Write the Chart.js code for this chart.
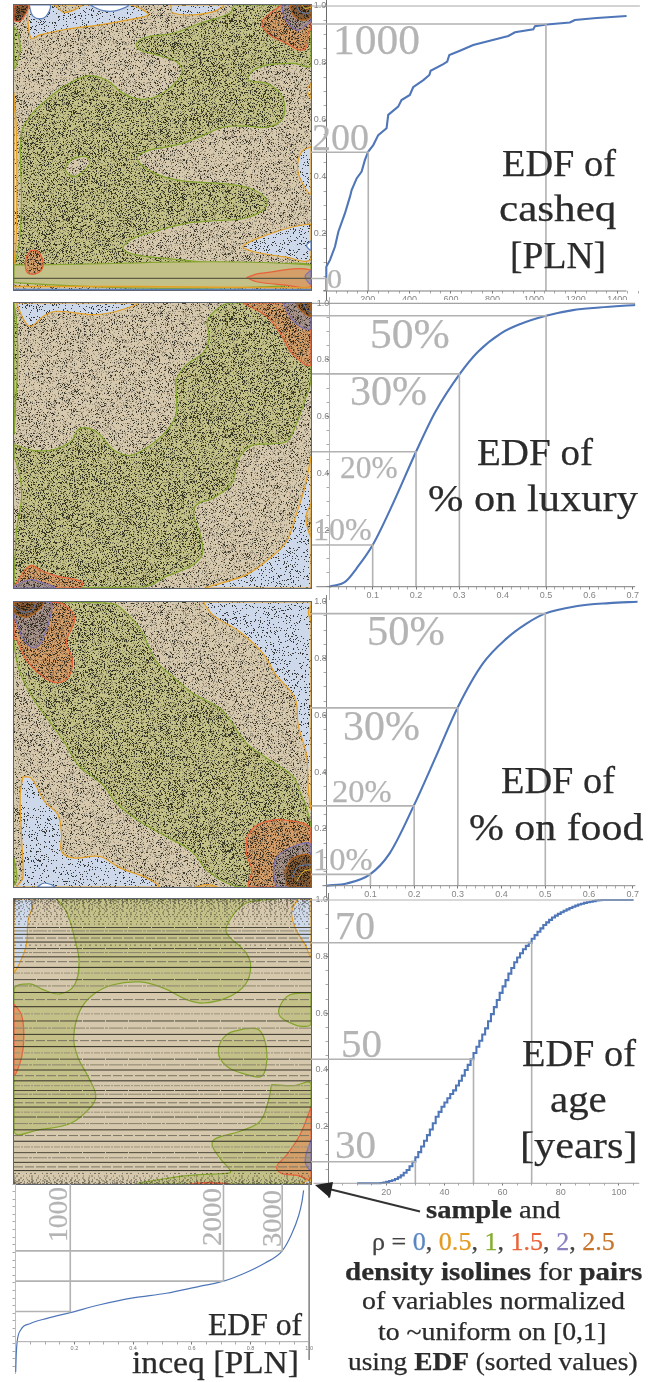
<!DOCTYPE html>
<html><head><meta charset="utf-8">
<script src="https://cdn.jsdelivr.net/npm/chart.js@4/dist/chart.umd.min.js"></script>
<style>
html,body{margin:0;padding:0;background:#fff}
#page{position:relative;width:660px;height:1382px;overflow:hidden;background:#fff;filter:blur(.35px)}
canvas{position:absolute;display:block}
.t{position:absolute;left:0;top:0;white-space:pre;line-height:1;font-family:"Liberation Serif",serif;transform-origin:0 0;-webkit-text-stroke:.25px currentColor}
svg{position:absolute;left:0;top:0}
</style></head><body><div id="page"></div>
<script>
/* ---------- EDF curves ---------- */
const casheqX=[0,0,18,42,58,90,114,122,146,170,186,202,226,250,290,298,346,362,402,418,467,496,502,563,582,592,643,707,787,876,908,996,1004,1060,1172,1196,1301,1445];
const casheqY=[0,.085,.109,.156,.208,.273,.331,.354,.395,.419,.46,.489,.512,.547,.571,.618,.647,.67,.688,.715,.74,.758,.773,.796,.805,.828,.843,.863,.878,.895,.908,.918,.929,.935,.942,.951,.958,.965];
const luxuryX=[0,.037,.063,.1,.147,.2,.245,.301,.343,.396,.441,.5,.562,.623,.706];
const luxuryY=[0,.018,.065,.147,.294,.476,.618,.751,.829,.894,.927,.956,.976,.985,.994];
const foodX=[0,.046,.099,.144,.199,.251,.299,.357,.411,.456,.499,.57,.646,.711];
const foodY=[0,.008,.04,.114,.281,.459,.626,.782,.87,.922,.958,.984,.995,1];
const ageX=[10,18,19,20,21,22,23,24,25,26,27,28,29,30,31,32,33,34,35,36,37,38,39,40,41,42,43,44,45,46,47,48,49,50,51,52,53,54,55,56,57,58,59,60,61,62,63,64,65,66,67,68,69,70,71,72,73,74,75,76,77,78,79,80,81,82,83,84,85,86,87,88,89,90,91,92,93,94,95,105];
const ageY=[0,0,.001,.003,.005,.008,.011,.015,.021,.028,.037,.047,.06,.076,.092,.11,.13,.15,.17,.19,.212,.235,.252,.27,.285,.3,.315,.328,.345,.362,.38,.4,.418,.438,.46,.482,.503,.525,.547,.572,.597,.622,.647,.672,.695,.717,.74,.76,.78,.797,.812,.826,.838,.849,.863,.876,.888,.9,.912,.921,.93,.938,.945,.951,.957,.962,.967,.972,.976,.98,.984,.987,.99,.992,.994,.996,.998,.999,1,1];
const inceqP=[0,.002,.005,.017,.05,.107,.186,.287,.4,.513,.626,.708,.795,.85,.908,.94,.964,.975,.981];
const inceqV=[-1000,-400,0,385,600,770,960,1220,1450,1600,1830,2000,2330,2600,3000,3550,4160,4600,5000];

/* ---------- quantile guide lines [x, EDF] ---------- */
const casheqGuides=[[0,.044],[202,.487],[1057,.937]];
const luxuryGuides=[[.1,.147],[.2,.476],[.3,.751],[.5,.956]];
const foodGuides=[[.1,.04],[.2,.281],[.3,.626],[.5,.958]];
const ageGuides=[[30,.076],[50,.438],[70,.849]];
const inceqGuides=[[.186,1000],[.708,2000],[.908,3000]];

/* ---------- isoline regions, [u,v] in normalized pair coordinates ---------- */
const c1Green=[[.004,.094],[.019,.175],[.025,.316],[.025,.55],[.058,.614],[.103,.661],[.176,.719],[.249,.751],[.311,.737],[.367,.69],[.429,.669],[.491,.684],[.547,.731],[.566,.766],[.547,.801],[.48,.825],[.424,.842],[.412,.865],[.446,.887],[.536,.901],[.626,.936],[.727,.971],[.744,1],[.851,1],[1,1],[1,.789],[.94,.795],[.851,.789],[.8,.766],[.789,.737],[.851,.725],[.896,.69],[.912,.643],[.901,.596],[.851,.571],[.783,.575],[.704,.571],[.626,.538],[.547,.509],[.457,.491],[.415,.468],[.435,.433],[.502,.398],[.592,.38],[.693,.374],[.794,.357],[.851,.316],[.839,.281],[.772,.251],[.671,.243],[.581,.234],[.491,.211],[.401,.181],[.367,.146],[.412,.123],[.513,.111],[.682,.094],[.851,.088],[1,.088],[1,.03],[0,.03],[0,.09]];
const c1Hole=[[.171,.427],[.193,.456],[.243,.468],[.255,.444],[.232,.415],[.204,.398],[.182,.407],[.171,.427]];
const c1Band=[[0,.088],[1,.088],[1,.018],[0,.026],[0,.088]];
const c1LeftGreen=[[0,.924],[.013,.901],[.021,.842],[0,.778],[0,.924]];
const c1BlueTL=[[.047,1],[.047,.947],[.058,.883],[.087,.895],[.176,.915],[.289,.93],[.379,.947],[.452,.965],[.435,.982],[.39,1],[.047,1]];
const c1WhiteA=[[.051,1],[.064,.961],[.098,.953],[.118,.977],[.12,1],[.051,1]];
const c1WhiteB=[[.255,1],[.3,.98],[.345,.98],[.384,1],[.255,1]];
const c1TanTop=[[.137,1],[.171,.974],[.227,1],[.137,1]];
const c1BlueTop=[[.53,.988],[.533,.973],[.592,.965],[.671,.977],[.704,1],[.53,1],[.53,.988]];
const c1RedTR=[[.901,1],[.856,.965],[.834,.936],[.862,.895],[.918,.865],[.963,.842],[.985,.854],[.991,.901],[1,.918],[1,1],[.901,1]];
const c1PurpleTR=[[.901,1],[.912,.953],[.952,.912],[.985,.93],[1,.947],[1,1],[.901,1]];
const c1DarkTR=[[.929,1],[.94,.965],[.969,.947],[1,.959],[1,1],[.929,1]];
const c1LineBlue=[[.952,1],[.963,.977],[.991,.971],[1,.982]];
const c1LineYellow=[[.969,1],[.98,.988],[1,.992]];
const c1DarkTL=[[0,1],[0,.947],[.025,.947],[.047,1],[0,1]];
const c1BlueR=[[1,.503],[.969,.485],[.955,.439],[.963,.392],[1,.339],[1,.503]];
const c1BlueR2=[[1,.725],[.988,.702],[1,.673],[1,.725]];
const c1BlueBR=[[1,.232],[.94,.222],[.851,.193],[.772,.154],[.806,.135],[.907,.117],[1,.108],[1,.232]];
const c1WhiteBR=[[1,.173],[.985,.156],[1,.14],[1,.173]];
const c1BlueL=[[0,.69],[.008,.55],[.008,.199],[0,.094],[0,.69]];
const c1RedBL=[[.058,.14],[.081,.135],[.098,.094],[.087,.064],[.053,.056],[.039,.076],[.042,.117],[.058,.14]];
const c1RedB=[[.783,.044],[.828,.058],[1,.07],[1,.012],[.907,.018],[.817,.029],[.783,.044]];
const c1PurpleB=[[1,.07],[.98,.047],[1,.021],[1,.07]];
const c1ZeroLine=[[0,.041],[1,.041]];
const c1BottomOrange=[[0,.012],[.4,.012],[1,.007]];
const c1BottomBlue=[[0,.002],[1,.002]];

const c2Green=[[0,.503],[.064,.483],[.131,.485],[.193,.515],[.216,.556],[.249,.561],[.289,.538],[.334,.485],[.39,.465],[.446,.491],[.502,.538],[.544,.602],[.547,.673],[.547,.731],[.581,.784],[.637,.825],[.657,.877],[.651,.936],[.682,.977],[.727,1],[1,1],[1,.731],[.98,.661],[.952,.579],[.918,.515],[.862,.506],[.794,.497],[.755,.45],[.733,.368],[.671,.316],[.615,.292],[.606,.251],[.626,.193],[.635,.123],[.603,.082],[.513,.041],[.435,.004],[0,0],[.002,.076],[.01,.216],[.025,.31],[.022,.38],[.008,.439],[0,.462],[0,.503]];
const c2LeftGreen=[[0,1],[.008,.942],[.013,.8],[.006,.661],[0,.544],[0,1]];
const c2BlueTL=[[.008,1],[.036,.936],[.058,.918],[.098,.953],[.143,.971],[.267,.959],[.345,.971],[.412,1],[.008,1]];
const c2BlueBR=[[1,.462],[.98,.357],[.952,.263],[.918,.164],[.862,.105],[.783,.047],[.682,.012],[.648,0],[1,0],[1,.462]];
const c2TanBR=[[1,.298],[.983,.246],[1,.181],[1,.298]];
const c2RedTR=[[.772,1],[.851,.953],[.896,.895],[.94,.819],[1,.784],[1,1],[.772,1]];
const c2PurpleTR=[[.907,1],[.929,.953],[.963,.918],[1,.912],[1,1],[.907,1]];
const c2DarkTR=[[.952,1],[.963,.977],[1,.953],[1,1],[.952,1]];
const c2LineTR=[[.975,1],[.985,.977],[1,.967]];
const c2RedBL=[[0,.004],[.053,.078],[.098,.058],[.148,.041],[.227,.023],[.222,0],[0,0],[0,.004]];
const c2PurpleBL=[[0,.006],[.053,.029],[.098,.018],[.137,0],[0,0],[0,.006]];

const c3Green=[[0,.848],[.019,.755],[.064,.662],[.12,.58],[.176,.498],[.216,.428],[.3,.358],[.345,.294],[.424,.23],[.513,.177],[.598,.125],[.648,.061],[.704,.02],[.761,0],[1,0],[1,.207],[.985,.277],[.963,.335],[.94,.387],[.851,.452],[.783,.504],[.727,.586],[.693,.627],[.603,.679],[.536,.737],[.48,.79],[.452,.848],[.424,.907],[.39,.948],[.334,.994],[.176,1],[0,1],[0,.848]];
const c3BlueTR=[[.637,1],[.671,.953],[.761,.895],[.839,.819],[.879,.749],[.946,.662],[.957,.568],[.985,.463],[.991,.347],[1,.277],[1,1],[.637,1]];
const c3TanTR=[[1,.988],[.991,.965],[1,.936],[1,.988]];
const c3BlueBL=[[.03,.387],[.058,.382],[.103,.3],[.148,.253],[.16,.183],[.16,.125],[.199,.102],[.289,.107],[.356,.067],[.446,.032],[.485,0],[.013,0],[.03,.032],[.025,.183],[.021,.323],[.03,.387]];
const c3WhiteB=[[.078,0],[.103,.014],[.137,0],[.078,0]];
const c3TanB=[[.609,0],[.648,.008],[.683,0],[.609,0]];
const c3LeftGreen=[[0,.102],[.01,.032],[0,.008],[0,.102]];
const c3RedTL=[[.008,.872],[.042,.796],[.098,.738],[.148,.717],[.187,.744],[.196,.802],[.176,.86],[.204,.942],[.165,.994],[.12,1],[0,1],[0,.872],[.008,.872]];
const c3PurpleTL=[[.013,.918],[.03,.872],[.064,.839],[.092,.86],[.126,.965],[.12,1],[0,1],[0,.953],[.013,.918]];
const c3DarkTL=[[0,1],[.098,1],[.087,.977],[.047,.948],[.019,.953],[0,.965],[0,1]];
const c3LineTL=[[0,.985],[.03,.965],[.06,.97],[.075,1]];
const c3RedBR=[[.783,.172],[.806,.207],[.851,.23],[.907,.236],[1,.201],[1,0],[.794,0],[.801,.061],[.783,.114],[.783,.172]];
const c3PurpleBR=[[.873,.055],[.884,.102],[.94,.142],[1,.148],[1,0],[.889,0],[.873,.055]];
const c3DarkBR=[[.912,.055],[.94,.102],[1,.107],[1,0],[.924,0],[.912,.055]];
const c3LineBR=[[.935,.032],[.957,.072],[1,.078]];
const c3LineBR2=[[.952,.02],[.975,.055],[1,.06]];

const c4GreenMain=[[.143,1],[.176,.957],[.204,.863],[.219,.781],[.204,.699],[.154,.667],[.098,.682],[.053,.702],[0,.682],[0,.185],[.087,.191],[.193,.214],[.261,.273],[.275,.313],[.249,.378],[.216,.442],[.201,.512],[.221,.606],[.266,.664],[.334,.699],[.424,.709],[.502,.688],[.581,.647],[.637,.635],[.716,.653],[.778,.699],[.797,.764],[.778,.816],[.716,.881],[.727,.927],[.783,.986],[.884,1],[.143,1]];
const c4GreenR=[[1,.67],[.929,.664],[.895,.623],[.896,.588],[.94,.561],[.968,.553],[1,.561],[1,.67]];
const c4GreenMid=[[.778,.545],[.823,.542],[.845,.501],[.851,.43],[.834,.378],[.783,.384],[.716,.413],[.688,.465],[.716,.524],[.778,.545]];
const c4GreenBR=[[.867,.349],[.94,.345],[1,.351],[1,0],[.424,0],[.536,.023],[.625,.033],[.727,.039],[.727,.05],[.693,.091],[.667,.138],[.682,.161],[.761,.185],[.828,.22],[.856,.29],[.867,.349]];
const c4BlueTL=[[0,.74],[.019,.775],[.042,.84],[.047,.922],[.064,1],[0,1],[0,.74]];
const c4BlueTR=[[.957,1],[.935,.957],[.947,.898],[.98,.84],[1,.799],[1,1],[.957,1]];
const c4RedL=[[0,.632],[.025,.594],[.033,.524],[.025,.442],[0,.384],[0,.632]];
const c4RedBR=[[1,.269],[.963,.173],[.919,.103],[.885,.062],[.897,.039],[.953,.03],[1,.021],[1,.269]];
const c4PurpleBR=[[1,.156],[.98,.08],[1,.05],[1,.156]];
const c4RedB=[[.587,0],[.654,.006],[.721,0],[.587,0]];
const c4BlueB=[[.964,0],[1,.015],[1,0],[.964,0]];

/* ---------- text ---------- */
const GREY='#b4b4b4', INK='#2b2b2b';
const blueT='#5b86c2', orangeT='#e39b22', greenT='#83ad2b', redT='#ea6238', purpleT='#8c7fc0', brownT='#c8752c';
const labels=[
 ['1000',333,54,42,GREY,87],['200',312,150,38,GREY,57],['0',327,288,28,GREY,15],
 ['EDF of',502,176,38,INK,114],['casheq',499,221,38,INK,117],['[PLN]',510,268,38,INK,96],
 ['50%',370,348,43,GREY,80],['30%',350,405,42,GREY,77],['20%',340,478,32,GREY,58],['10%',313,540,32,GREY,59],
 ['EDF of',477,465,38,INK,116],['% on luxury',428,511,38,INK,210],
 ['50%',367,645,43,GREY,78],['30%',343,740,43,GREY,77],['20%',332,802,32,GREY,60],['10%',313,870,32,GREY,60],
 ['EDF of',501,793,38,INK,114],['% on food',469,840,38,INK,174],
 ['70',335,939,40,GREY,40],['50',341,1057,40,GREY,41],['30',335,1158,40,GREY,41],
 ['EDF of',522,1066,38,INK,114],['age',550,1112,38,INK,57],['[years]',520,1158,38,INK,117],
 ['EDF of',208,1335,32,INK,94],['inceq [PLN]',132,1373,32,INK,167],
 ['1000',67,1242,28,GREY,55,-90],['2000',221,1246,28,GREY,58,-90],['3000',281,1247,28,GREY,57,-90],
 ['<b>sample</b> and',426,1218,25,INK,134],
 ['ρ = <span style="color:'+blueT+'">0</span>, <span style="color:'+orangeT+'">0.5</span>, <span style="color:'+greenT+'">1</span>, <span style="color:'+redT+'">1.5</span>, <span style="color:'+purpleT+'">2</span>, <span style="color:'+brownT+'">2.5</span>',372,1250,25,'#444',243],
 ['<b>density isolines</b> for <b>pairs</b>',345,1280,25,INK,297],
 ['of variables normalized',362,1309,25,INK,263],
 ['to ~uniform on [0,1]',378,1340,25,INK,228],
 ['using <b>EDF</b> (sorted values)',348,1370,25,INK,290]
];

/* ---------- styles ---------- */
const LINE={blue:'#5a7fb9',orange:'#e5a024',green:'#84a52c',red:'#e8623a',purple:'#7f72b3',brown:'#b5651e',yellow:'#e2c22e',dark:'#55503f'};
const FILL={white:'#ffffff',blue:'#cdd8ea',tan:'#d6c8ad',olive:'#c3c088',orange:'#d49f68',mauve:'#a8948a',dark:'#8a5f38'};
/* stipple density per tone: the individual sample points cannot be read, so they are shown as a fixed texture */
const DOTS={white:0,blue:1,tan:2.4,olive:3.6,orange:4.4,mauve:4.8,dark:6};
const NODOTS={white:0,blue:0,tan:0,olive:0,orange:0,mauve:0,dark:0};
const MASK=["7302915864071392586401739258640719235","1948270536182947305618294730561829473","6051739248615073924861507392486150739","2869401573928640157392864015739286401","5137826094715382609471538260947153826",
"9420615738240961573824096157382409615","3785192460837519246083751924608375192","8216047359162604735916260473591626047","0593728146509372814650937281465093728","4671380952746138095274613809527461380",
"1308954627310895462731089546273108954","7954263180795426318079542631807954263","2640817395264081739526408173952640817","6182539047618253904761825390476182539","9537102468953710246895371024689537102",
"3029468715302946871530294687153029468","8761350294876135029487613502948761350","5416097832541609783254160978325416097","0873524169087352416908735241690873524","4295781036429578103642957810364295781",
"1650243978165024397816502439781650243","7382916504738291650473829165047382916","9104637285910463728591046372859104637","2947058163294705816329470581632947058","6528174390652817439065281743906528174",
"3871460925387146092538714609253871460","8039625714803962571480396257148039625","5764392081576439208157643920815764392","0412879536041287953604128795360412879"];
const tiles={};
function stipple(ctx,tone,table){
  const d=table[tone];
  if(!d) return FILL[tone];
  const key=tone+d;
  if(tiles[key]) return ctx.createPattern(tiles[key],'repeat');
  const n=300,c=document.createElement('canvas');c.width=n;c.height=n;
  const g=c.getContext('2d');g.fillStyle=FILL[tone];g.fillRect(0,0,n,n);
  for(let y=0;y<n;y++)for(let x=0;x<n;x++){
    const a=+MASK[y%29][x%37], b=+MASK[(y*3+x*7)%29][(x*5+y*2)%37], v=(a+b)%10;
    if(v<d){g.fillStyle=v<d*0.35?'rgba(20,20,14,.8)':'rgba(40,38,30,.32)';g.fillRect(x,y,1,1);}
  }
  tiles[key]=c;
  return ctx.createPattern(c,'repeat');
}

const page=document.getElementById('page');
function newCanvas(l,t,w,h){
  const c=document.createElement('canvas');c.width=w;c.height=h;
  c.style.cssText='left:'+l+'px;top:'+t+'px;width:'+w+'px;height:'+h+'px';
  page.appendChild(c);return c;
}
const pts=a=>a.map(p=>({x:p[0],y:p[1]}));
const BASE_OPTS=()=>({responsive:false,animation:false,devicePixelRatio:1,events:[],
  layout:{padding:0},plugins:{legend:{display:false},tooltip:{enabled:false}}});

function contourPanel(rect,regions,lines,table,overlay){
  const c=newCanvas(...rect);
  c.style.outline='1px solid #5f6672';
  const ctx=c.getContext('2d');
  const ds=[{data:pts([[0,0],[1,0],[1,1],[0,1],[0,0]]),fill:'shape',backgroundColor:stipple(ctx,'tan',table),borderWidth:0,tension:0,pointRadius:0,showLine:true}];
  regions.forEach(r=>{
    const plain=r[3]==='plain';
    ds.push({data:pts(r[0]),fill:'shape',backgroundColor:plain?FILL[r[1]]:stipple(ctx,r[1],table),borderColor:LINE[r[2]],borderWidth:1.2,tension:.38,pointRadius:0,showLine:true});
  });
  lines.forEach(l=>ds.push({data:pts(l[0]),fill:false,borderColor:l[1],borderWidth:l[2]||1,tension:.3,pointRadius:0,showLine:true}));
  (overlay||[]).forEach(o=>ds.push(o));
  new Chart(ctx,{type:'scatter',data:{datasets:ds.reverse()},options:Object.assign(BASE_OPTS(),{
    scales:{x:{type:'linear',min:0,max:1,display:false},y:{type:'linear',min:0,max:1,display:false}}})});
}

function edfPanel(cfg){
  const c=newCanvas(...cfg.rect);
  const g=col=>({fill:false,borderColor:col,pointRadius:0,showLine:true,tension:0});
  const ds=[];
  const curve=Object.assign({data:cfg.xs.map((x,i)=>({x,y:cfg.ys[i]})),stepped:cfg.stepped?'after':false},g('#4f76b8'),{borderWidth:cfg.curveW||2.1});
  if(cfg.smooth) curve.cubicInterpolationMode='monotone';
  ds.push(curve);
  cfg.guidePaths.forEach(p=>ds.push(Object.assign({data:pts(p)},g('#b2b2b2'),{borderWidth:cfg.guideW||1.6})));
  (cfg.extra||[]).forEach(e=>ds.push(Object.assign({data:pts(e[0])},g(e[1]),{borderWidth:e[2]||1})));
  const isMaj=(v,m)=>Math.abs(v/m-Math.round(v/m))<1e-6;
  const tick=(sc)=>({type:'linear',min:sc.min,max:sc.max,
    border:{display:sc.border!==false,color:sc.axis||'#808080',width:1},
    grid:{drawOnChartArea:false,drawTicks:true,tickLength:2.5,
      tickColor:ct=>{const v=ct.tick?ct.tick.value:0;return v<sc.tickFrom?'rgba(0,0,0,0)':(isMaj(v,sc.major)?'#777':'#aaa');}},
    ticks:{stepSize:sc.step,autoSkip:false,maxRotation:0,includeBounds:false,padding:sc.pad,color:sc.color||'#858585',
      font:{size:sc.size||9,family:'"Liberation Sans",Arial,sans-serif'},
      callback:v=>(v>sc.labelFrom&&isMaj(v,sc.major))?sc.fmt(Math.round(v/sc.major)*sc.major):''},
    position:sc.pos});
  new Chart(c.getContext('2d'),{type:'scatter',data:{datasets:ds.reverse()},options:Object.assign(BASE_OPTS(),{
    scales:{x:tick(Object.assign({pos:{y:0},border:false},cfg.x)),y:tick(Object.assign({pos:{x:0}},cfg.y))}})});
}
const guideUp=(list,xMin)=>list.map(g=>[[g[0],0],[g[0],g[1]],[xMin,g[1]]]);
const f1=v=>v.toFixed(1), f0=v=>String(Math.round(v));
const yAxisCfg=(min,max,extra)=>Object.assign({min,max,step:.05,major:.2,labelFrom:.01,tickFrom:0,pad:-8,fmt:f1},extra||{});

/* pair panels */
contourPanel([14,5,297,285],[
  [c1BlueL,'blue','orange'],[c1Green,'olive','green'],[c1Hole,'tan','green'],[c1LeftGreen,'olive','green'],[c1BlueTL,'blue','orange'],
  [c1WhiteA,'white','blue'],[c1WhiteB,'white','blue'],[c1TanTop,'tan','orange'],[c1BlueTop,'blue','orange'],
  [c1BlueR,'blue','orange'],[c1BlueR2,'blue','orange'],[c1BlueBR,'blue','orange'],[c1WhiteBR,'white','blue'],
  [c1Band,'olive','green','plain'],[c1RedBL,'orange','red'],[c1RedB,'orange','red','plain'],[c1PurpleB,'mauve','purple','plain'],
  [c1RedTR,'orange','red'],[c1PurpleTR,'mauve','purple'],[c1DarkTR,'dark','brown'],[c1DarkTL,'dark','red']
],[[c1LineBlue,LINE.blue],[c1LineYellow,LINE.yellow],[c1ZeroLine,'#5d5a45',1.2],[c1BottomOrange,LINE.orange,1.5],[c1BottomBlue,LINE.blue,1.6]],DOTS);

contourPanel([14,303,297,285],[
  [c2Green,'olive','green'],[c2LeftGreen,'olive','green'],[c2BlueTL,'blue','orange'],[c2BlueBR,'blue','orange'],[c2TanBR,'tan','orange'],
  [c2RedTR,'orange','red'],[c2PurpleTR,'mauve','purple'],[c2DarkTR,'dark','brown'],[c2RedBL,'orange','red'],[c2PurpleBL,'mauve','purple']
],[[c2LineTR,LINE.blue]],DOTS);

contourPanel([14,602,297,285],[
  [c3Green,'olive','green'],[c3BlueTR,'blue','orange'],[c3TanTR,'tan','orange'],[c3BlueBL,'blue','orange'],[c3WhiteB,'white','blue'],[c3TanB,'tan','orange'],[c3LeftGreen,'olive','green'],
  [c3RedTL,'orange','red'],[c3PurpleTL,'mauve','purple'],[c3DarkTL,'dark','brown'],[c3RedBR,'orange','red'],[c3PurpleBR,'mauve','purple'],[c3DarkBR,'dark','brown']
],[[c3LineTL,LINE.blue],[c3LineBR,LINE.blue],[c3LineBR2,LINE.yellow]],DOTS);

/* age is discrete: every age is one row of samples, at its EDF height; thinly separated rows look like stipple */
const ROW_SHADES=['#37352a','#8b8470','#4c493a','#9a927c','#2f2d24','#7b7563'];
const ROW_DASHES=[[],[14,1,3,1],[22,1],[6,1,2,1],[],[9,2]];
const ageRows=ageY.slice(1,-1).map((v,i)=>{
  const thin=(ageY[i+2]-v)<.012;
  return {data:pts([[0,v],[1,v]]),fill:false,showLine:true,pointRadius:0,borderWidth:1,
    borderColor:thin?'rgba(60,56,44,.6)':ROW_SHADES[i%6],borderDash:thin?[1+i%2,1+i%4,2,2+i%5,1,3+i%3]:ROW_DASHES[i%6]};
});
contourPanel([14,899,297,285],[
  [c4GreenMain,'olive','green'],[c4GreenR,'olive','green'],[c4GreenMid,'olive','green'],[c4GreenBR,'olive','green'],
  [c4BlueTL,'blue','orange'],[c4BlueTR,'blue','orange'],[c4RedL,'orange','red'],[c4RedBR,'orange','red'],[c4PurpleBR,'mauve','purple'],[c4RedB,'orange','red'],[c4BlueB,'blue','orange']
],[],NODOTS,ageRows);

/* EDF panels */
edfPanel({rect:[311,0,329,300],xs:casheqX,ys:casheqY,
  guidePaths:guideUp(casheqGuides,-73.6),
  extra:[[[[-73.6,1],[1509,1]],'#a8a8a8',1.2],[[[-14,0],[1445,0]],'#7d7d7d',1]],
  x:{min:-73.6,max:1509.6,step:50,major:200,labelFrom:1,tickFrom:0,pad:1,fmt:f0},y:yAxisCfg(-.0316,1.0211,{axis:'#6a6a6a'})});
edfPanel({rect:[311,297,329,303],xs:luxuryX,ys:luxuryY,smooth:true,
  guidePaths:guideUp(luxuryGuides,-.0401),
  extra:[[[[-.0401,1],[.706,1]],'#8a8a8a',1],[[[-.03,0],[.706,0]],'#7d7d7d',1]],
  x:{min:-.0401,max:.7061,step:.02,major:.1,labelFrom:.01,tickFrom:0,pad:1,fmt:f1},y:yAxisCfg(-.0469,1.0222,{axis:'#b8b8b8'})});
edfPanel({rect:[311,595,329,303],xs:foodX,ys:foodY,smooth:true,
  guidePaths:guideUp(foodGuides,-.0359),
  extra:[[[[-.01,0],[.706,0]],'#8a8a8a',1]],
  x:{min:-.0359,max:.716,step:.02,major:.1,labelFrom:.01,tickFrom:0,pad:1,fmt:f1},y:yAxisCfg(-.0433,1.0236,{axis:'#7d7d7d'})});
edfPanel({rect:[311,893,329,305],xs:ageX,ys:ageY,stepped:true,
  guidePaths:guideUp(ageGuides,-5.88),
  extra:[[[[-5.88,1],[105,1]],'#b2b2b2',1.2],[[[-5,0],[107,0]],'#a0a0a0',1]],
  x:{min:-5.88,max:107.25,step:5,major:20,labelFrom:1,tickFrom:0,pad:1,fmt:f0},y:yAxisCfg(-.0519,1.0247,{axis:'#7d7d7d'})});
edfPanel({rect:[0,1184,314,190],xs:inceqP,ys:inceqV,curveW:1.2,guideW:1.6,smooth:true,
  guidePaths:inceqGuides.map(g=>[[0,g[1]],[g[0],g[1]],[g[0],5210]]),
  extra:[[[[1,5210],[1,-600]],'#8a8a8a',1],[[[0,0],[1,0]],'#a8a8a8',1]],
  x:{min:-.0507,max:1.0112,step:.05,major:.2,labelFrom:.01,tickFrom:0,pad:1,size:5.5,color:'#777',fmt:f1},
  y:{min:-1067,max:5210,step:250,major:1000,labelFrom:-1001,tickFrom:-1001,pad:-4.5,size:6,color:'#666',axis:'#bdbdbd',fmt:f0}});

/* arrow */
page.insertAdjacentHTML('beforeend','<svg width="660" height="1382"><line x1="420" y1="1211.5" x2="325" y2="1188" stroke="#333" stroke-width="2"/><polygon points="315,1185 333,1182 330,1198" fill="#222"/></svg>');

/* text */
labels.forEach(l=>{
  const [html,x,base,size,color,width,rot]=l;
  const s=document.createElement('div');s.className='t';s.innerHTML=html;
  s.style.fontSize=size+'px';s.style.color=color;
  page.appendChild(s);
  const k=width/s.offsetWidth;
  s.style.transform='translate('+x+'px,'+base+'px) rotate('+(rot||0)+'deg) scaleX('+k+') translate(0,-'+(size*.8375)+'px)';
});
</script></body></html>
